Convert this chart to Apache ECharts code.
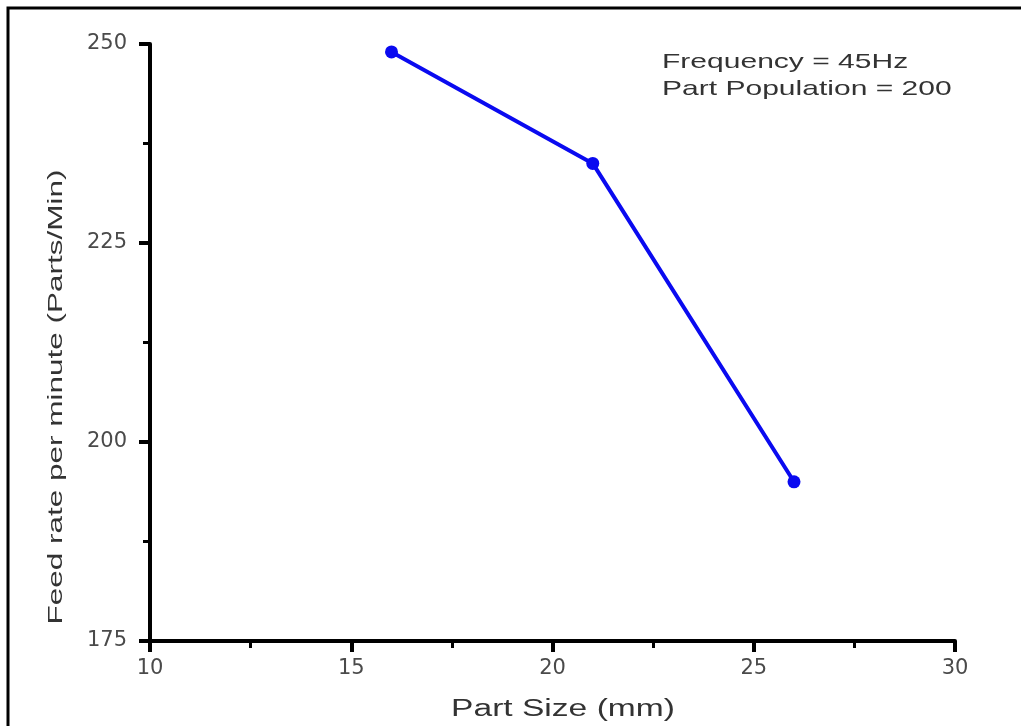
<!DOCTYPE html>
<html>
<head>
<meta charset="utf-8">
<title>Feed rate vs part size</title>
<script src="https://cdn.jsdelivr.net/npm/echarts@6/dist/echarts.min.js"></script>
<style>
    html, body {
        margin: 0;
        padding: 0;
        background: #fff;
    }
    #chart {
        width: 1021px;
        height: 726px;
    }
</style>
</head>
<body>
<div id="chart"></div>
<script>
    // data
    var partSize = [16, 21, 26];          // mm
    var feedRate = [249, 235, 195];       // parts/min
    var xTicks = [10, 30, 5];             // min, max, interval
    var yTicks = [175, 250, 25];
    var noteLines = ['Frequency = 45Hz', 'Part Population = 200'];
    var xTitle = 'Part Size (mm)';
    var yTitle = 'Feed rate per minute (Parts/Min)';

    var points = partSize.map(function (x, i) {
        return [x, feedRate[i]];
    });

    var myChart = echarts.init(document.getElementById('chart'));

    myChart.setOption({
        backgroundColor: '#fff',
        animation: false,
        grid: {left: 150, right: 66, top: 44, bottom: 85},
        xAxis: {
            type: 'value',
            min: xTicks[0],
            max: xTicks[1],
            interval: xTicks[2],
            axisLine: {show: true, onZero: false, lineStyle: {color: '#000', width: 4}},
            axisTick: {show: true, inside: false, length: 11, lineStyle: {color: '#000', width: 4}},
            minorTick: {show: true, splitNumber: 2, length: 7, lineStyle: {color: '#000', width: 3}},
            splitLine: {show: false},
            axisLabel: {
                margin: 17,
                color: '#4a4a4a',
                fontFamily: 'DejaVu Sans',
                fontSize: 21
            }
        },
        yAxis: {
            type: 'value',
            min: yTicks[0],
            max: yTicks[1],
            interval: yTicks[2],
            axisLine: {show: true, onZero: false, lineStyle: {color: '#000', width: 4}},
            axisTick: {show: true, inside: false, length: 11, lineStyle: {color: '#000', width: 4}},
            minorTick: {show: true, splitNumber: 2, length: 7, lineStyle: {color: '#000', width: 3}},
            splitLine: {show: false},
            axisLabel: {
                margin: 23,
                color: '#4a4a4a',
                fontFamily: 'DejaVu Sans',
                fontSize: 21
            }
        },
        series: [{
            type: 'line',
            data: points,
            symbol: 'circle',
            symbolSize: 13,
            lineStyle: {color: '#0a0af0', width: 4},
            itemStyle: {color: '#0a0af0'}
        }],
        graphic: [
            {   // outer frame
                type: 'rect',
                shape: {x: 8, y: 8, width: 1100, height: 800},
                style: {fill: 'none', stroke: '#000', lineWidth: 3},
                silent: true
            },
            {
                type: 'text',
                x: 563, y: 710,
                scaleX: 1.46,
                style: {
                    text: xTitle, fill: '#333',
                    font: '23px "Liberation Sans", Arial, sans-serif',
                    textAlign: 'center', textVerticalAlign: 'middle'
                }
            },
            {
                type: 'text',
                x: 56, y: 397,
                rotation: Math.PI / 2,
                scaleX: 1.5,
                style: {
                    text: yTitle, fill: '#333',
                    font: '21px "Liberation Sans", Arial, sans-serif',
                    textAlign: 'center', textVerticalAlign: 'middle'
                }
            },
            {
                type: 'text',
                x: 662, y: 62.5,
                scaleX: 1.43,
                style: {
                    text: noteLines[0], fill: '#333',
                    font: '21px "Liberation Sans", Arial, sans-serif',
                    textAlign: 'left', textVerticalAlign: 'middle'
                }
            },
            {
                type: 'text',
                x: 662, y: 89.5,
                scaleX: 1.43,
                style: {
                    text: noteLines[1], fill: '#333',
                    font: '21px "Liberation Sans", Arial, sans-serif',
                    textAlign: 'left', textVerticalAlign: 'middle'
                }
            }
        ]
    });
</script>
</body>
</html>
